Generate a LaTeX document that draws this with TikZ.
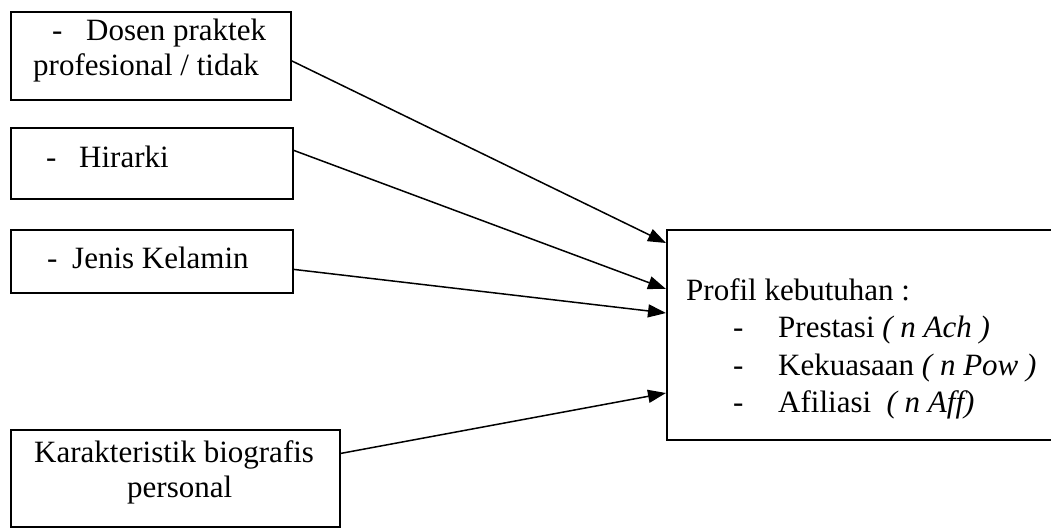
\documentclass[tikz,border=0pt]{standalone}
\usepackage{fontspec}
\setmainfont{Liberation Serif}
\usetikzlibrary{arrows.meta}
\begin{document}
\begin{tikzpicture}[x=1pt,y=-1pt,
  boxnode/.style={draw,line width=1.8pt,anchor=north west,inner sep=0pt},
  txt/.style={anchor=base west,inner sep=0pt,font=\fontsize{31}{36}\selectfont},
  arr/.style={line width=1.5pt,-{Triangle[length=18pt,width=13pt]}}]
\useasboundingbox (0,0) rectangle (1051,530);
% boxes
\node[boxnode,minimum width=280pt,minimum height=88pt] (b1) at (10,11) {};
\node[boxnode,minimum width=282pt,minimum height=71pt] (b2) at (10,127) {};
\node[boxnode,minimum width=282pt,minimum height=63pt] (b3) at (10,229) {};
\node[boxnode,minimum width=329pt,minimum height=97pt] (b4) at (10,429) {};
\node[boxnode,minimum width=400pt,minimum height=210pt] (R) at (666,229) {};
% texts
\node[txt] (t1a) at (52,40) {-};
\node[txt] (t1b) at (86,40) {Dosen praktek};
\node[txt] (t1c) at (33,75) {profesional / tidak};
\node[txt] (t2a) at (46,167) {-};
\node[txt] (t2b) at (79,167) {Hirarki};
\node[txt] (t3a) at (47,268) {-};
\node[txt] (t3b) at (72,268) {Jenis Kelamin};
\node[txt] (t4a) at (34,462) {Karakteristik biografis};
\node[txt] (t4b) at (127,497) {personal};
\node[txt] (r0) at (686,300) {Profil kebutuhan :};
\node[txt] (r1a) at (733,337) {-};
\node[txt] (r1b) at (778,337) {Prestasi \textit{( n Ach )}};
\node[txt] (r2a) at (733,375) {-};
\node[txt] (r2b) at (778,375) {Kekuasaan \textit{( n Pow )}};
\node[txt] (r3a) at (733,412) {-};
\node[txt] (r3b) at (778,412) {Afiliasi\ \ \textit{( n Aff)}};
% connectors
\draw[arr] ([yshift=-5pt]b1.east) -- ([yshift=-14pt]R.north west);
\draw[arr] ([yshift=13pt]b2.east) -- ([yshift=-60pt]R.north west);
\draw[arr] ([yshift=-8pt]b3.east) -- ([yshift=-84pt]R.north west);
\draw[arr] ([yshift=25pt]b4.east) -- ([yshift=-164pt]R.north west);
\end{tikzpicture}
\end{document}
